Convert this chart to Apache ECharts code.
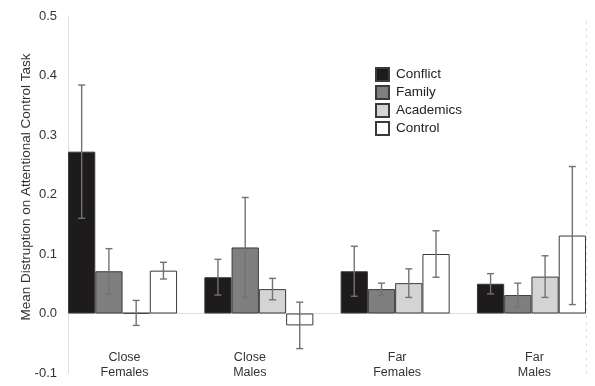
<!DOCTYPE html>
<html>
<head>
<meta charset="utf-8">
<script src="https://cdn.jsdelivr.net/npm/echarts@6/dist/echarts.min.js"></script>
<style>
html,body{margin:0;padding:0;background:#fff;}
#chart{width:595px;height:386px;}
</style>
</head>
<body>
<div id="chart"></div>
<script>
var categories = ['Close\nFemales', 'Close\nMales', 'Far\nFemales', 'Far\nMales'];
var seriesNames = ['Conflict', 'Family', 'Academics', 'Control'];
var conflictMean = [0.272, 0.061, 0.071, 0.050];
var familyMean = [0.071, 0.111, 0.041, 0.031];
var academicsMean = [0.001, 0.041, 0.051, 0.062];
var controlMean = [0.072, -0.020, 0.100, 0.131];
var conflictErr = [0.112, 0.030, 0.042, 0.017];
var familyErr = [0.038, 0.084, 0.010, 0.020];
var academicsErr = [0.021, 0.018, 0.024, 0.035];
var controlErr = [0.014, 0.039, 0.039, 0.116];
var yTicks = [-0.1, 0.0, 0.1, 0.2, 0.3, 0.4, 0.5];

var means = [conflictMean, familyMean, academicsMean, controlMean];
var errs = [conflictErr, familyErr, academicsErr, controlErr];
var colors = ['#1e1b1c', '#7f7f7f', '#d4d4d4', '#ffffff'];
var FONT = '"Liberation Sans", Arial, Helvetica, sans-serif';
var yMin = yTicks[0], yMax = yTicks[yTicks.length - 1];

var errData = [];
for (var s = 0; s < 4; s++) {
  for (var c = 0; c < categories.length; c++) {
    errData.push([c, s, means[s][c], errs[s][c]]);
  }
}

var barSeries = seriesNames.map(function (name, i) {
  return {
    name: name,
    type: 'bar',
    xAxisIndex: 1,
    yAxisIndex: 2,
    barGap: '0%',
    barCategoryGap: '20%',
    data: means[i],
    itemStyle: { color: colors[i], borderColor: '#3a3a3a', borderWidth: 1 },
    emphasis: { disabled: true },
    z: 2
  };
});

var GRID_TOP = 16, GRID_BOTTOM = 13, H = 386;
var plotH = H - GRID_TOP - GRID_BOTTOM;
var zeroFromBottom = plotH * (0 - yMin) / (yMax - yMin);

var chart = echarts.init(document.getElementById('chart'), null, { renderer: 'canvas' });
chart.setOption({
  animation: false,
  backgroundColor: '#ffffff',
  textStyle: { fontFamily: FONT },
  grid: [
    { left: 68, right: 9, top: GRID_TOP, bottom: GRID_BOTTOM, containLabel: false, outerBoundsMode: 'none' },
    { left: 54.4, right: -4.6, top: GRID_TOP, bottom: GRID_BOTTOM, containLabel: false, outerBoundsMode: 'none' }
  ],
  legend: {
    data: seriesNames,
    orient: 'vertical',
    left: 375,
    top: 67,
    padding: 0,
    itemWidth: 13,
    itemHeight: 13,
    itemGap: 3,
    icon: 'rect',
    textStyle: { fontSize: 13.5, color: '#222', fontFamily: FONT, padding: [0, 0, 0, 2] },
    selectedMode: false
  },
  xAxis: [
    {
      type: 'category', gridIndex: 0, data: categories,
      axisLine: { show: true, onZero: true, lineStyle: { color: '#dedede', width: 1 } },
      axisTick: { show: false }, axisLabel: { show: false }, splitLine: { show: false }
    },
    {
      type: 'category', gridIndex: 1, data: categories,
      offset: -zeroFromBottom,
      axisLine: { show: false, onZero: false },
      axisTick: { show: false }, splitLine: { show: false },
      axisLabel: {
        show: true, margin: 37, fontSize: 12.5, color: '#333', fontFamily: FONT, lineHeight: 15,
        hideOverlap: false,
        formatter: function (v, idx) {
          var key = 'c' + idx;
          return v.split('\n').map(function (l) { return '{' + key + '|' + l + '}'; }).join('\n');
        },
        rich: {
          c0: { fontSize: 12.5, color: '#333', lineHeight: 15, padding: [0, 0, 0, 4] },
          c1: { fontSize: 12.5, color: '#333', lineHeight: 15, padding: [0, 18, 0, 0] },
          c2: { fontSize: 12.5, color: '#333', lineHeight: 15, padding: [0, 0, 0, 4] },
          c3: { fontSize: 12.5, color: '#333', lineHeight: 15, padding: [0, 0, 0, 6] }
        }
      }
    }
  ],
  yAxis: [
    {
      type: 'value', gridIndex: 0, min: yMin, max: yMax, interval: 0.1,
      name: 'Mean Distruption on Attentional Control Task',
      nameLocation: 'middle', nameGap: 35, nameMoveOverlap: false,
      nameTextStyle: { fontSize: 13.5, color: '#333', fontFamily: FONT, padding: [0, 0, 0, 15] },
      axisLine: { show: true, lineStyle: { color: '#dedede', width: 1 } },
      axisTick: { show: false },
      splitLine: { show: false },
      axisLabel: {
        fontSize: 13, color: '#333', margin: 11, fontFamily: FONT,
        formatter: function (v) { return v.toFixed(1); }
      }
    },
    {
      type: 'value', gridIndex: 0, min: yMin, max: yMax, interval: 0.1, position: 'right',
      axisLine: { show: true, lineStyle: { color: '#cfcfcf', width: 1, type: [1, 6] } },
      axisTick: { show: false }, axisLabel: { show: false }, splitLine: { show: false }
    },
    {
      type: 'value', gridIndex: 1, min: yMin, max: yMax, interval: 0.1, show: false
    }
  ],
  series: barSeries.concat([{
    type: 'custom',
    name: 'errors',
    xAxisIndex: 1,
    yAxisIndex: 2,
    data: errData,
    encode: { x: 0, y: 2 },
    z: 5,
    silent: true,
    renderItem: function (params, api) {
      var cat = api.value(0), si = api.value(1), m = api.value(2), e = api.value(3);
      var band = api.size([1, 0])[0];
      var bw = band * 0.8 / 4;
      var cx = api.coord([cat, 0])[0] + (si - 1.5) * bw;
      var yTop = api.coord([cat, m + e])[1];
      var yBot = api.coord([cat, m - e])[1];
      var cap = 3.5;
      var st = { stroke: '#727272', lineWidth: 1.4, fill: null };
      return {
        type: 'group',
        children: [
          { type: 'line', shape: { x1: cx, y1: yTop, x2: cx, y2: yBot }, style: st },
          { type: 'line', shape: { x1: cx - cap, y1: yTop, x2: cx + cap, y2: yTop }, style: st },
          { type: 'line', shape: { x1: cx - cap, y1: yBot, x2: cx + cap, y2: yBot }, style: st }
        ]
      };
    }
  }])
});
</script>
</body>
</html>
